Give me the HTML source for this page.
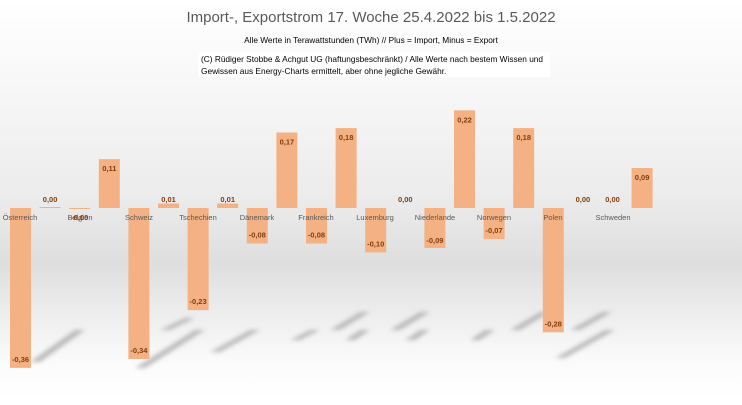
<!DOCTYPE html>
<html><head><meta charset="utf-8"><style>
html,body{margin:0;padding:0}
body{width:742px;height:400px;overflow:hidden;font-family:"Liberation Sans",sans-serif}
</style></head><body>
<svg width="742" height="400" xmlns="http://www.w3.org/2000/svg" font-family="Liberation Sans, sans-serif">
<defs>
<linearGradient id="bg" x1="0" y1="0" x2="0" y2="1">
<stop offset="0" stop-color="#ffffff"/>
<stop offset="0.2" stop-color="#f8f8f8"/>
<stop offset="0.5" stop-color="#ebebeb"/>
<stop offset="0.66" stop-color="#dedede"/>
<stop offset="0.8" stop-color="#efefef"/>
<stop offset="0.92" stop-color="#fcfcfc"/>
<stop offset="1" stop-color="#ffffff"/>
</linearGradient>
<filter id="bl"><feGaussianBlur stdDeviation="2"/></filter>
</defs>
<rect width="742" height="400" fill="url(#bg)"/>
<g fill="#b0b0b0" filter="url(#bl)" opacity="0.85">
<polygon points="30,362 40,362 85,330 75,330"/>
<polygon points="135,368 145,368 205,330 195,330"/>
<polygon points="160,330 170,330 195,318 185,318"/>
<polygon points="210,352 220,352 260,330 250,330"/>
<polygon points="290,340 300,340 320,330 310,330"/>
<polygon points="330,330 340,330 370,312 360,312"/>
<polygon points="345,340 355,340 370,330 360,330"/>
<polygon points="390,330 400,330 430,312 420,312"/>
<polygon points="405,340 415,340 430,330 420,330"/>
<polygon points="470,340 480,340 495,330 485,330"/>
<polygon points="510,330 520,330 550,312 540,312"/>
<polygon points="555,358 565,358 615,330 605,330"/>
<polygon points="570,330 580,330 612,312 602,312"/>
</g>
<text x="371" y="22" text-anchor="middle" font-size="15" fill="#595959">Import-, Exportstrom 17. Woche 25.4.2022 bis 1.5.2022</text>
<text x="371" y="43" text-anchor="middle" font-size="8.3" fill="#000">Alle Werte in Terawattstunden (TWh) // Plus = Import, Minus = Export</text>
<rect x="198" y="52" width="352" height="25" fill="#fff"/>
<text x="201" y="62" font-size="8.3" fill="#000">(C) Rüdiger Stobbe &amp; Achgut UG (haftungsbeschränkt) / Alle Werte nach bestem Wissen und</text>
<text x="201" y="74" font-size="8.3" fill="#000">Gewissen aus Energy-Charts ermittelt, aber ohne jegliche Gewähr.</text>
<g id="bars" fill="#f4b183"></g>
<g font-size="7.5" fill="#595959" text-anchor="middle">
<text x="20" y="220">Österreich</text>
<text x="80" y="220">Belgien</text>
<text x="139" y="220">Schweiz</text>
<text x="198" y="220">Tschechien</text>
<text x="257" y="220">Dänemark</text>
<text x="316" y="220">Frankreich</text>
<text x="375" y="220">Luxemburg</text>
<text x="435" y="220">Niederlande</text>
<text x="494" y="220">Norwegen</text>
<text x="553" y="220">Polen</text>
<text x="613" y="220">Schweden</text>
</g>
<g id="lbl" font-size="7.5" font-weight="bold" fill="#843c0c" text-anchor="middle"></g>
</svg>
<script>
var v=[-0.36,0.00,-0.004,0.11,-0.34,0.01,-0.23,0.01,-0.08,0.17,-0.08,0.18,-0.10,0.00,-0.09,0.22,-0.07,0.18,-0.28,0.00,0.00,0.09];
var t=["-0,36","0,00","-0,00","0,11","-0,34","0,01","-0,23","0,01","-0,08","0,17","-0,08","0,18","-0,10","0,00","-0,09","0,22","-0,07","0,18","-0,28","0,00","0,00","0,09"];
var ns="http://www.w3.org/2000/svg",z=208,k=444,b=document.getElementById('bars'),l=document.getElementById('lbl');
v.forEach(function(val,i){
 var x=10+i*29.6,h=Math.abs(val)*k,y=val>=0?z-h:z;
 if(i==1||i==13||i==19||i==20){h=(i==1)?1:0;}
 if(i==2){h=1;y=z;}
 if(i==1){y=z-1;}
 var r=document.createElementNS(ns,'rect');
 r.setAttribute('x',x);r.setAttribute('y',y);r.setAttribute('width',21);r.setAttribute('height',Math.max(h,0));
 b.appendChild(r);
 var s=document.createElementNS(ns,'text'),ty;
 if(val>=0){ty=(h>20)?y+12:z-6;}else{ty=z+h-6;}
 if(i==2)ty=z+12; if(i==16)ty=z+h-6;if(i==14)ty=z+h-5;
 s.setAttribute('x',x+10.5);s.setAttribute('y',ty);s.textContent=t[i];l.appendChild(s);
});
</script>
</body></html>
